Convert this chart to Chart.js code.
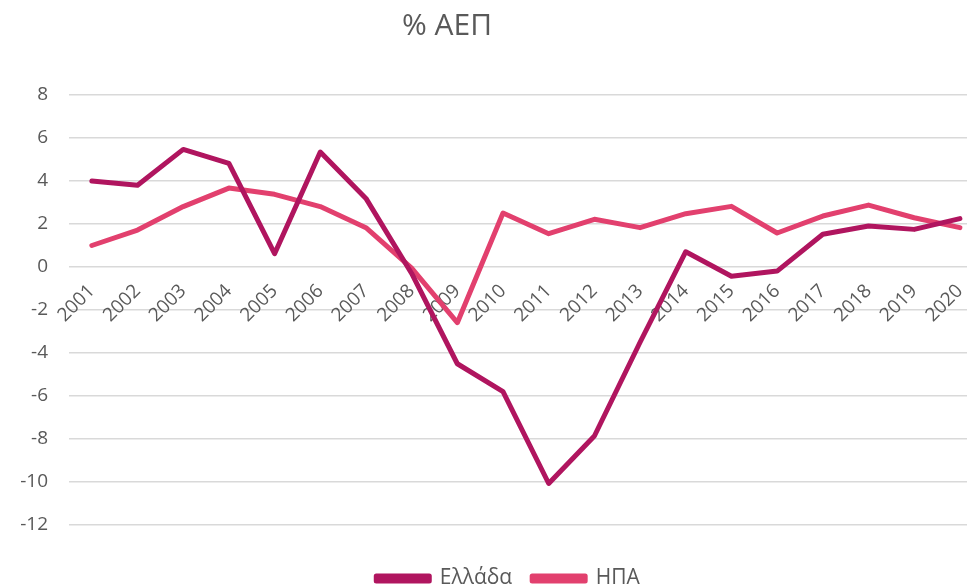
<!DOCTYPE html>
<html>
<head>
<meta charset="utf-8">
<script src="https://cdn.jsdelivr.net/npm/chart.js@4/dist/chart.umd.min.js"></script>
<style>
  html, body { margin: 0; padding: 0; background: #ffffff; overflow: hidden; }
  #wrap { position: absolute; left: 0; top: 0; width: 989px; height: 588px; }
</style>
</head>
<body>
<div id="wrap"><canvas id="c" width="989" height="588"></canvas></div>
<script>
const years = ["2001","2002","2003","2004","2005","2006","2007","2008","2009","2010",
               "2011","2012","2013","2014","2015","2016","2017","2018","2019","2020"];
const greece = [4.0, 3.8, 5.47, 4.82, 0.62, 5.35, 3.19, -0.3, -4.5, -5.8,
                -10.07, -7.86, -3.5, 0.71, -0.43, -0.19, 1.52, 1.91, 1.75, 2.25];
const usa = [1.0, 1.72, 2.81, 3.67, 3.38, 2.81, 1.83, -0.05, -2.59, 2.51,
             1.55, 2.22, 1.83, 2.48, 2.82, 1.58, 2.37, 2.88, 2.29, 1.83];
const yTicks = [8, 6, 4, 2, 0, -2, -4, -6, -8, -10, -12];
const titleText = "% ΑΕΠ";
const seriesNames = ["Ελλάδα", "ΗΠΑ"];

const FONT = "'Open Sans', 'DejaVu Sans', sans-serif";
const TXT = "#595959";

const shiftPlugin = {
  id: 'shift',
  afterLayout(chart) {
    const t = chart.titleBlock;
    if (t) {
      const c = (t.left + t.right) / 2, dx = 447 - c;
      t.left += dx; t.right += dx;
    }
    const l = chart.legend;
    if (l) {
      const c = (l.left + l.right) / 2, dx = 508 - c;
      l.left += dx; l.right += dx;
      l.top += 23; l.bottom += 23;
    }
  }
};

new Chart(document.getElementById('c'), {
  type: 'line',
  data: {
    labels: years,
    datasets: [
      { label: seriesNames[0], data: greece, borderColor: '#B0155F', backgroundColor: '#B0155F',
        borderWidth: 5, pointRadius: 0, tension: 0, borderJoinStyle: 'round', borderCapStyle: 'round' },
      { label: seriesNames[1], data: usa, borderColor: '#E2406E', backgroundColor: '#E2406E',
        borderWidth: 5, pointRadius: 0, tension: 0, borderJoinStyle: 'round', borderCapStyle: 'round' }
    ]
  },
  options: {
    responsive: false,
    animation: false,
    layout: { padding: { left: 0, right: 0, top: 0, bottom: 12 } },
    plugins: {
      title: { display: true, text: titleText, color: TXT,
               font: { family: FONT, size: 30, weight: 'normal' },
               padding: { top: 8, bottom: 51 } },
      legend: { position: 'bottom',
                labels: { color: TXT, font: { family: FONT, size: 21 },
                          boxWidth: 53, boxHeight: 5, padding: 20 } },
      tooltip: { enabled: false }
    },
    scales: {
      x: {
        position: { y: 0 },
        offset: true,
        grid: { display: false, drawTicks: false },
        border: { display: false },
        ticks: { color: TXT, font: { family: FONT, size: 19 }, minRotation: 45, maxRotation: 45, padding: 13, autoSkip: false }
      },
      y: {
        min: -12, max: 8,
        afterBuildTicks(scale) { scale.ticks = yTicks.map(v => ({ value: v })); },
        afterFit(scale) { scale.width = 69; },
        grid: { color: '#D9D9D9', lineWidth: 1.5, drawTicks: false },
        border: { display: false },
        ticks: { color: TXT, font: { family: FONT, size: 19 }, padding: 21 }
      }
    }
  },
  plugins: [shiftPlugin]
});
</script>
</body>
</html>
